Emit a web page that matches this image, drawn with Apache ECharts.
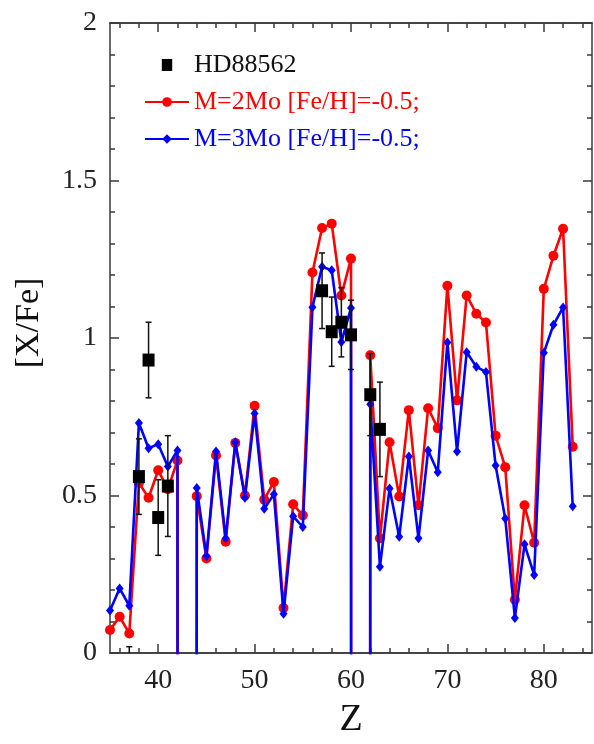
<!DOCTYPE html>
<html>
<head>
<meta charset="utf-8">
<script src="https://cdn.jsdelivr.net/npm/echarts@6/dist/echarts.min.js"></script>
<style>
  html, body { margin: 0; padding: 0; background: #fff; }
  #chart { width: 594px; height: 744px; }
</style>
</head>
<body>
<div id="chart"></div>
<script>
// Atomic number of each model point
const zModel = [35, 36, 37, 38, 39, 40, 41, 42, 43, 44, 45, 46, 47, 48, 49, 50, 51, 52, 53, 54,
  55, 56, 57, 58, 59, 60, 61, 62, 63, 64, 65, 66, 67, 68, 69, 70, 71, 72, 73, 74, 75, 76, 77,
  78, 79, 80, 81, 82, 83];

// [X/Fe] predictions; Tc (43) and Pm (61) have no stable isotopes -> floor value far below the axis
const model2Mo = [0.073, 0.115, 0.062, 0.54, 0.493, 0.58, 0.52, 0.611, -99, 0.498, 0.30, 0.627,
  0.353, 0.667, 0.50, 0.785, 0.487, 0.543, 0.143, 0.472, 0.437, 1.208, 1.349, 1.363, 1.135,
  1.252, -99, 0.945, 0.364, 0.669, 0.497, 0.771, 0.469, 0.777, 0.714, 1.166, 0.802, 1.135,
  1.077, 1.049, 0.69, 0.59, 0.169, 0.469, 0.35, 1.156, 1.261, 1.347, 0.655];

const model3Mo = [0.135, 0.205, 0.15, 0.73, 0.65, 0.663, 0.592, 0.643, -99, 0.524, 0.308, 0.64,
  0.364, 0.669, 0.493, 0.76, 0.458, 0.504, 0.125, 0.434, 0.40, 1.098, 1.226, 1.215, 0.987,
  1.095, -99, 0.79, 0.274, 0.522, 0.369, 0.624, 0.364, 0.643, 0.574, 0.986, 0.64, 0.955,
  0.909, 0.892, 0.595, 0.427, 0.111, 0.345, 0.248, 0.953, 1.042, 1.097, 0.466];

// Observed abundances of HD88562 with their uncertainties
const obsZ = [37, 38, 39, 40, 41, 57, 58, 59, 60, 62, 63];
const obsVal = [-0.12, 0.56, 0.93, 0.43, 0.53, 1.15, 1.02, 1.05, 1.01, 0.82, 0.71];
const obsErr = [0.14, 0.12, 0.12, 0.12, 0.16, 0.12, 0.11, 0.11, 0.11, 0.13, 0.15];

// Axis ticks
const xMajorTicks = [40, 50, 60, 70, 80];
const xMinorTicks = [36, 38, 42, 44, 46, 48, 52, 54, 56, 58, 62, 64, 66, 68, 72, 74, 76, 78, 82, 84];

const names = ['HD88562', 'M=2Mo [Fe/H]=-0.5;', 'M=3Mo [Fe/H]=-0.5;'];
const RED = '#ff0000';
const BLUE = '#0000ff';
const AXIS = '#3a3a3a';
const FONT = "'Liberation Serif', 'Times New Roman', serif";

// Legend marker: a square centred in the 44x12 legend slot (tiny end strokes fix the path's box)
const SQUARE_ICON = 'path://M0,6L0.01,6M44,6L43.99,6M15.5,-1.5L28.5,-1.5L28.5,13.5L15.5,13.5Z';

const pairs = (xs, ys) => xs.map((x, i) => [x, ys[i]]);

const chart = echarts.init(document.getElementById('chart'), null, { renderer: 'canvas' });

function xAxisDef(pos, ticks, len, showLabel) {
  return {
    type: 'value', position: pos, min: 35, max: 85,
    axisLine: { show: true, onZero: false, lineStyle: { color: AXIS, width: 1.5 } },
    axisTick: { show: true, inside: true, length: len, customValues: ticks,
      lineStyle: { color: AXIS, width: 1.5 } },
    axisLabel: showLabel ? { show: true, customValues: xMajorTicks, margin: 14,
      fontFamily: FONT, fontSize: 28, color: '#222' } : { show: false },
    splitLine: { show: false }
  };
}

function yAxisDef(pos, showLabel) {
  return {
    type: 'value', position: pos, min: 0, max: 2, interval: 0.5,
    axisLine: { show: true, onZero: false, lineStyle: { color: AXIS, width: 1.5 } },
    axisTick: { show: true, inside: true, length: 9, lineStyle: { color: AXIS, width: 1.5 } },
    minorTick: { show: true, splitNumber: 5, length: 5, lineStyle: { color: AXIS, width: 1.5 } },
    axisLabel: showLabel ? { show: true, margin: 13, fontFamily: FONT, fontSize: 28, color: '#222' }
                         : { show: false },
    splitLine: { show: false }
  };
}

const xAxes = [
  Object.assign(xAxisDef('bottom', xMajorTicks, 9, true), {
    name: 'Z', nameLocation: 'middle', nameGap: 48,
    nameTextStyle: { fontFamily: FONT, fontSize: 38, color: '#111' }
  }),
  xAxisDef('bottom', xMinorTicks, 5, false),
  xAxisDef('top', xMajorTicks, 9, false),
  xAxisDef('top', xMinorTicks, 5, false)
];

const yAxes = [
  Object.assign(yAxisDef('left', true), {
    name: '[X/Fe]', nameLocation: 'middle', nameGap: 64, nameRotate: 90,
    nameTextStyle: { fontFamily: FONT, fontSize: 34, color: '#111', padding: [0, 0, 0, 30] }
  }),
  yAxisDef('right', false)
];

// Vertical error bars with short caps, clipped to the plot area
function renderErrorBar(params, api) {
  const x = api.value(0), y = api.value(1), e = api.value(2);
  const cs = params.coordSys;
  const top = api.coord([x, y + e]);
  const bot = api.coord([x, y - e]);
  const yMin = cs.y, yMax = cs.y + cs.height;
  const y1 = Math.max(top[1], yMin), y2 = Math.min(bot[1], yMax);
  if (y1 >= y2) return null;
  const style = { stroke: '#111', lineWidth: 1.5 };
  const children = [{ type: 'line', shape: { x1: top[0], y1: y1, x2: top[0], y2: y2 }, style }];
  const cap = 3;
  if (top[1] >= yMin && top[1] <= yMax) {
    children.push({ type: 'line', shape: { x1: top[0] - cap, y1: top[1], x2: top[0] + cap, y2: top[1] }, style });
  }
  if (bot[1] >= yMin && bot[1] <= yMax) {
    children.push({ type: 'line', shape: { x1: bot[0] - cap, y1: bot[1], x2: bot[0] + cap, y2: bot[1] }, style });
  }
  return { type: 'group', children };
}

const option = {
  animation: false,
  backgroundColor: '#fff',
  grid: { left: 110, right: 2, top: 23, bottom: 87, containLabel: false },
  xAxis: xAxes,
  yAxis: yAxes,
  legend: {
    orient: 'vertical', left: 139, top: 47, itemWidth: 44, itemHeight: 12, itemGap: 11,
    textStyle: { fontFamily: FONT, fontSize: 26 },
    data: [
      { name: names[0], icon: SQUARE_ICON, itemStyle: { color: '#000', opacity: 1 },
        textStyle: { color: '#111' } },
      { name: names[1], textStyle: { color: RED } },
      { name: names[2], textStyle: { color: BLUE } }
    ]
  },
  series: [
    {
      name: names[1], type: 'line', xAxisIndex: 0, yAxisIndex: 0, clip: true,
      data: pairs(zModel, model2Mo),
      symbol: 'circle', symbolSize: 10,
      lineStyle: { color: RED, width: 2.6 }, itemStyle: { color: RED }, z: 2
    },
    {
      name: names[2], type: 'line', xAxisIndex: 0, yAxisIndex: 0, clip: true,
      data: pairs(zModel, model3Mo),
      symbol: 'diamond', symbolSize: [8, 10],
      lineStyle: { color: BLUE, width: 2.6 }, itemStyle: { color: BLUE }, z: 3
    },
    {
      name: names[0] + ' err', type: 'custom', xAxisIndex: 0, yAxisIndex: 0,
      data: obsZ.map((z, i) => [z, obsVal[i], obsErr[i]]),
      renderItem: renderErrorBar, z: 4
    },
    {
      name: names[0], type: 'scatter', xAxisIndex: 0, yAxisIndex: 0, clip: true,
      data: pairs(obsZ, obsVal),
      symbol: 'rect', symbolSize: [12, 13],
      itemStyle: { color: '#000', opacity: 1 }, z: 5
    }
  ]
};

chart.setOption(option);
</script>
</body>
</html>
